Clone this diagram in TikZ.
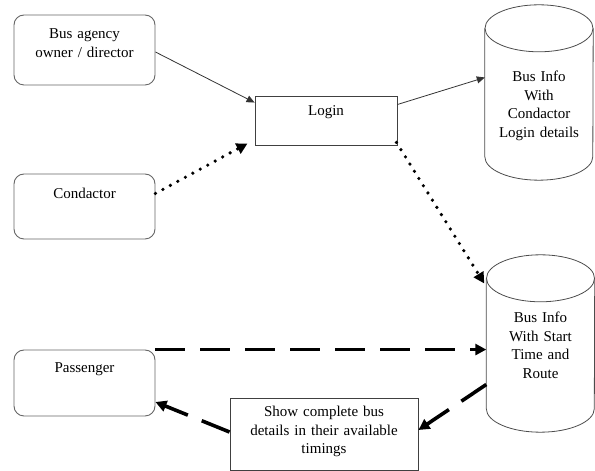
\documentclass[tikz,border=0pt]{standalone}
\usepackage{fontspec}
\setmainfont{Liberation Serif}
\usetikzlibrary{arrows.meta}
% outline of a data store drawn round a named node
\newcommand{\drumoutline}[1]{%
    \draw[drum] ([yshift=-23.5pt]#1.north) ellipse [x radius=54pt, y radius=23.5pt];
    \draw[drum] ([yshift=-23.5pt]#1.north west) -- ([yshift=23.5pt]#1.south west)
        arc [start angle=180, end angle=360, x radius=54pt, y radius=23.5pt]
        -- ([yshift=-23.5pt]#1.north east);
}
\begin{document}
\begin{tikzpicture}[x=1pt, y=1pt,
        font=\fontsize{15}{18.5}\selectfont,
        actor/.style={draw=black!60, line width=0.9pt, rounded corners=10pt, align=center,
            text width=130pt, minimum width=141pt, inner ysep=4pt},
        procbox/.style={draw=black!75, line width=0.9pt, align=center, inner ysep=4pt},
        store/.style={align=center, text width=100pt, minimum width=108pt, inner ysep=4pt},
        drum/.style={draw=black!70, line width=0.8pt},
        flow/.style={draw=black!80, line width=0.8pt, -{Triangle[length=8pt,width=7pt]}},
        dots/.style={line width=3.6pt, line cap=round, dash pattern=on 0pt off 8.5pt,
            -{Triangle[length=11pt,width=11pt]}},
        bigdash/.style={line width=3.6pt, dash pattern=on 30pt off 15pt,
            -{Triangle[length=11pt,width=11pt]}}]
    \useasboundingbox (0,0) rectangle (595,471);

    % actors on the left
    \node[actor, minimum height=70pt, text height=20pt, text depth=42pt] (owner) at (84.5,421)
        {Bus agency\\owner / director};
    \node[actor, minimum height=65pt, text height=21pt, text depth=36pt] (cond) at (84.5,264.5)
        {Condactor};
    \node[actor, minimum height=66pt, text height=19pt, text depth=39pt] (pass) at (84.5,88)
        {Passenger};

    % login and output boxes
    \node[procbox, minimum width=142pt, minimum height=49pt, text height=16pt, text depth=25pt]
        (login) at (326,350.5) {Login};
    \node[procbox, text width=178pt, minimum width=188pt, minimum height=72pt,
        text height=15pt, text depth=49pt] (show) at (324,37)
        {Show complete bus\\details in their available\\timings};

    % data stores
    \node[store, minimum height=175pt, text height=73pt, text depth=94pt] (info1) at (539,378.5)
        {Bus Info\\With\\Condactor\\Login details};
    \node[store, minimum height=177pt, text height=64pt, text depth=105pt] (info2) at (540.5,127.5)
        {Bus Info\\With Start\\Time and\\Route};
    \drumoutline{info1}
    \drumoutline{info2}

    \draw[flow] ([yshift=-2pt]owner.east) -- ([yshift=-7pt]login.north west);
    \draw[flow] ([yshift=16pt]login.east) -- ([yshift=15pt]info1.west);
    \draw[dots] ([yshift=13pt]cond.east) -- ([xshift=-7pt,yshift=2pt]login.south west);
    \draw[dots] ([xshift=-1pt,yshift=3pt]login.south east) -- ([xshift=-2pt,yshift=60pt]info2.west);

    % passenger request and reply
    \draw[bigdash] (pass.north east) -- (pass.north east -| info2.west);
    \draw[bigdash] ([yshift=-41pt]info2.west) -- ([yshift=4pt]show.east);
    \draw[bigdash] ([yshift=2pt]show.west) -- ([yshift=-19pt]pass.east);
\end{tikzpicture}
\end{document}
